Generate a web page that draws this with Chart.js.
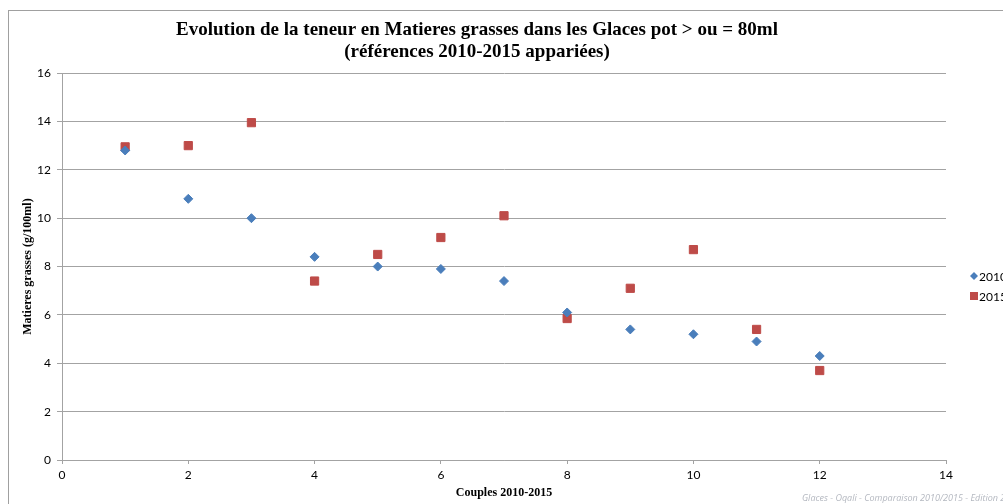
<html>
<head>
<meta charset="utf-8">
<script src="https://cdn.jsdelivr.net/npm/chart.js@4.4.1/dist/chart.umd.min.js"></script>
<style>
  html, body { margin: 0; padding: 0; background: #fff; overflow: hidden; }
  #wrap { width: 1003px; height: 504px; }
</style>
</head>
<body>
<div id="wrap"><canvas id="scatter"></canvas></div>
<script>
// couples 2010-2015 (x) and fat content g/100ml (y)
var couples = [1, 2, 3, 4, 5, 6, 7, 8, 9, 10, 11, 12];
var mg2010 = [12.8, 10.8, 10.0, 8.4, 8.0, 7.9, 7.4, 6.1, 5.4, 5.2, 4.9, 4.3];
var mg2015 = [12.95, 13.0, 13.95, 7.4, 8.5, 9.2, 10.1, 5.85, 7.1, 8.7, 5.4, 3.7];
var seriesNames = ['2010', '2015'];
var xTicks = [0, 2, 4, 6, 8, 10, 12, 14];
var yTicks = [0, 2, 4, 6, 8, 10, 12, 14, 16];

var blue = '#4a7ebb';
var red = '#be4b48';
var gridGray = '#a3a3a3';

function toPoints(xs, ys) {
  return xs.map(function(x, i) { return { x: x, y: ys[i] }; });
}

// frame, footer and legend on the right
var extras = {
  id: 'extras',
  beforeDraw: function(chart) {
    var ctx = chart.ctx;
    ctx.save();
    ctx.fillStyle = '#fff';
    ctx.fillRect(0, 0, chart.width, chart.height);
    ctx.strokeStyle = '#a0a0a0';
    ctx.lineWidth = 1;
    ctx.strokeRect(8.5, 10.5, chart.width + 20, chart.height + 20);
    ctx.restore();
  },
  afterDraw: function(chart) {
    var ctx = chart.ctx;
    ctx.save();
    ctx.font = 'italic 9px "Open Sans"';
    ctx.fillStyle = '#b4b8c0';
    ctx.textBaseline = 'alphabetic';
    ctx.fillText('Glaces - Oqali - Comparaison 2010/2015 - Edition 2017', 802, 501);

    ctx.font = '12px Lato';
    ctx.textBaseline = 'middle';
    chart.data.datasets.forEach(function(ds, i) {
      var y = 276 + i * 20;
      ctx.fillStyle = ds.backgroundColor;
      ctx.beginPath();
      if (ds.pointStyle === 'rectRot') {
        ctx.moveTo(974, y - 4); ctx.lineTo(978, y); ctx.lineTo(974, y + 4); ctx.lineTo(970, y);
      } else {
        ctx.rect(970, y - 4, 8, 8);
      }
      ctx.closePath();
      ctx.fill();
      ctx.fillStyle = '#000';
      ctx.fillText(ds.label, 979, y + 1);
    });
    ctx.restore();
  }
};

var ctx = document.getElementById('scatter').getContext('2d');
var chart = new Chart(ctx, {
  type: 'scatter',
  data: {
    datasets: [{
      label: seriesNames[0],
      data: toPoints(couples, mg2010),
      backgroundColor: blue,
      borderColor: blue,
      pointStyle: 'rectRot',
      pointRadius: 4.5,
      pointHoverRadius: 4.5
    }, {
      label: seriesNames[1],
      data: toPoints(couples, mg2015),
      backgroundColor: red,
      borderColor: red,
      pointStyle: 'rect',
      pointRadius: 5.8,
      pointHoverRadius: 5.8
    }]
  },
  options: {
    responsive: true,
    maintainAspectRatio: false,
    animation: false,
    layout: { padding: { left: 8, right: 57, top: 0, bottom: 0 } },
    plugins: {
      legend: { display: false },
      tooltip: { enabled: false },
      title: {
        display: true,
        text: ['Evolution de la teneur en Matieres grasses dans les Glaces pot > ou = 80ml',
               '(références 2010-2015 appariées)'],
        font: { family: '"Liberation Serif"', size: 19, weight: 'bold', lineHeight: 1.16 },
        color: '#000',
        padding: { top: 19, bottom: 10 }
      }
    },
    scales: {
      x: {
        type: 'linear',
        min: 0,
        max: 14,
        afterBuildTicks: function(scale) { scale.ticks = xTicks.map(function(v) { return { value: v }; }); },
        afterFit: function(scale) { scale.height = 44; },
        grid: { display: true, drawOnChartArea: false, drawTicks: true, tickLength: 4, color: gridGray },
        border: { display: true, color: gridGray },
        ticks: { font: { family: 'Lato', size: 12 }, color: '#000', padding: 4, maxRotation: 0 },
        title: {
          display: true,
          text: 'Couples 2010-2015',
          font: { family: '"Liberation Serif"', size: 12, weight: 'bold' },
          color: '#000',
          padding: { top: 0, bottom: 4 }
        }
      },
      y: {
        type: 'linear',
        min: 0,
        max: 16,
        afterBuildTicks: function(scale) { scale.ticks = yTicks.map(function(v) { return { value: v }; }); },
        afterFit: function(scale) { scale.width = 54; },
        grid: { display: true, drawTicks: true, tickLength: 5, color: gridGray },
        border: { display: true, color: gridGray },
        ticks: { font: { family: 'Lato', size: 12 }, color: '#000', padding: 6 },
        title: {
          display: true,
          text: 'Matieres grasses (g/100ml)',
          font: { family: '"Liberation Serif"', size: 12, weight: 'bold' },
          color: '#000',
          padding: { top: 13, bottom: 0 }
        }
      }
    }
  },
  plugins: [extras]
});
</script>
</body>
</html>
